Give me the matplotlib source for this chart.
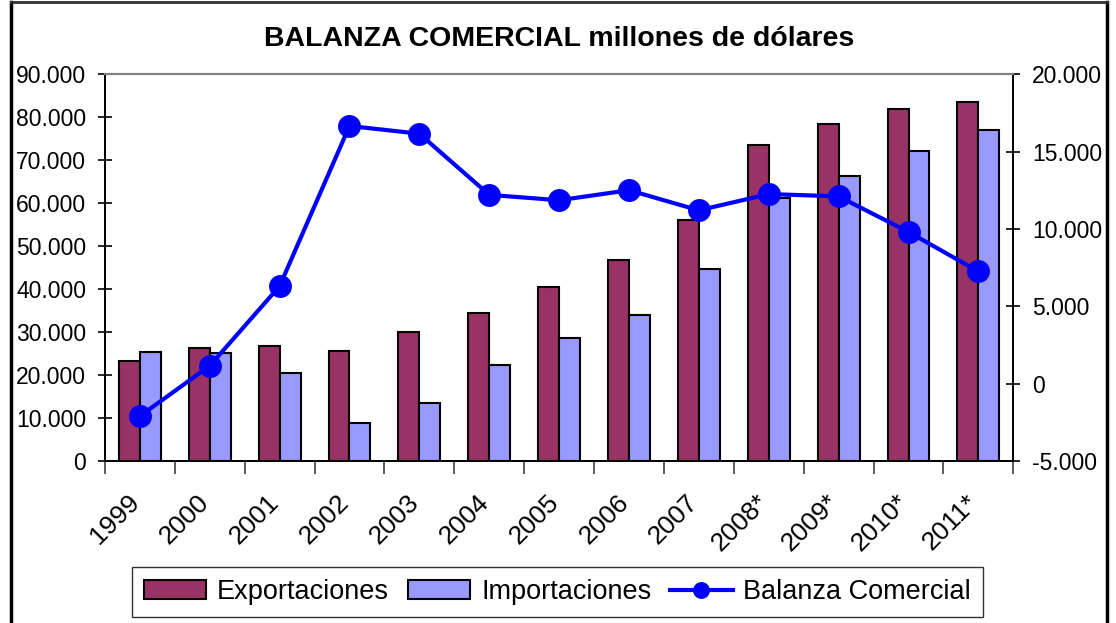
import matplotlib
matplotlib.use("Agg")
import matplotlib.pyplot as plt
import matplotlib.transforms as mtransforms
import numpy as np
from matplotlib.lines import Line2D
from matplotlib.ticker import FuncFormatter

# -----------------------------
# DATA (millones de dólares)
# -----------------------------

years = ["1999", "2000", "2001", "2002", "2003", "2004", "2005",
         "2006", "2007", "2008*", "2009*", "2010*", "2011*"]

exportaciones = [23300, 26300, 26700, 25700, 30000, 34500, 40400,
                 46700, 56000, 73500, 78400, 81800, 83600]

importaciones = [25300, 25200, 20400, 8800, 13600, 22400, 28700,
                 34000, 44700, 61200, 66200, 72100, 76900]

balanza = [-2100, 1150, 6300, 16650, 16150, 12200, 11850,
           12500, 11200, 12250, 12100, 9800, 7250]

left_ticks = [0, 10000, 20000, 30000, 40000, 50000, 60000, 70000, 80000, 90000]
right_ticks = [-5000, 0, 5000, 10000, 15000, 20000]

# -----------------------------
# STYLE
# -----------------------------

plt.rcParams["font.family"] = ["Liberation Sans", "DejaVu Sans"]

COL_EXP = "#993366"
COL_IMP = "#9999FF"
COL_BAL = "#0000FF"


def miles(v, pos=None):
    # thousands with a dot, spanish style
    s = f"{abs(int(round(v))):,}".replace(",", ".")
    return "-" + s if v < 0 else s


fig = plt.figure(figsize=(11.16, 6.23), dpi=100)
ax = fig.add_axes([0.094, 0.26, 0.814, 0.621])
ax2 = ax.twinx()

x = np.arange(len(years))
w = 0.3

b1 = ax.bar(x - w / 2, exportaciones, w, color=COL_EXP, edgecolor="black",
            linewidth=1.5, label="Exportaciones", zorder=2)
b2 = ax.bar(x + w / 2, importaciones, w, color=COL_IMP, edgecolor="black",
            linewidth=1.5, label="Importaciones", zorder=2)

ln, = ax2.plot(x, balanza, color=COL_BAL, linewidth=3, marker="o",
               markersize=15.5, label="Balanza Comercial", zorder=3)

# -----------------------------
# AXES
# -----------------------------

ax.set_xlim(-0.5, len(years) - 0.5)
ax.set_ylim(0, 90000)
ax2.set_ylim(-5000, 20000)

ax.set_yticks(left_ticks)
ax.yaxis.set_major_formatter(FuncFormatter(miles))
ax2.set_yticks(right_ticks)
ax2.yaxis.set_major_formatter(FuncFormatter(miles))

ax.tick_params(axis="y", direction="inout", length=10, width=1.2,
               labelsize=16.5, pad=8.5)
ax2.tick_params(axis="y", direction="inout", length=10, width=1.2,
                labelsize=16.5, pad=8.5)

# category boundaries as ticks, labels in the middle
ax.set_xticks(np.arange(-0.5, len(years), 1.0))
ax.set_xticklabels([])
ax.set_xticks(x, minor=True)
ax.set_xticklabels(years, minor=True, rotation=45, ha="right", va="center",
                   rotation_mode="anchor", fontsize=19)
ax.tick_params(axis="x", which="major", direction="out", length=9,
               width=1.2, color="#404040")
ax.tick_params(axis="x", which="minor", length=0, pad=27)
shift = mtransforms.ScaledTranslation(-3 / 72, 0, fig.dpi_scale_trans)
for lab in ax.get_xticklabels(minor=True):
    lab.set_transform(lab.get_transform() + shift)

for a in (ax, ax2):
    a.spines["top"].set_color("#808080")
    a.spines["top"].set_linewidth(1.5)
    a.spines["left"].set_linewidth(1.3)
    a.spines["right"].set_linewidth(1.3)
    a.spines["bottom"].set_linewidth(1.3)
ax.patch.set_visible(False)
ax2.set_zorder(ax.zorder + 1)
ax2.patch.set_visible(False)

fig.text(0.501, 0.938, "BALANZA COMERCIAL millones de dólares",
         ha="center", va="center", fontsize=20.5, fontweight="bold")

leg = fig.legend([b1, b2, ln], ["Exportaciones", "Importaciones", "Balanza Comercial"],
                 loc="center", bbox_to_anchor=(0.4996, 0.0498), ncol=3,
                 fontsize=19.5, frameon=True, fancybox=False, handlelength=2.3,
                 handleheight=0.65, handletextpad=0.4, columnspacing=0.7,
                 borderpad=0.45, borderaxespad=0, markerscale=0.72,
                 edgecolor="black")
leg.get_frame().set_linewidth(1.0)

# outer chart border
fig.add_artist(Line2D([0.0095, 0.0095], [0.0, 0.997], transform=fig.transFigure,
                      color="black", linewidth=2.5))
fig.add_artist(Line2D([0.9915, 0.9915], [0.0, 0.997], transform=fig.transFigure,
                      color="black", linewidth=2.5))
fig.add_artist(Line2D([0.0095, 0.9915], [0.997, 0.997], transform=fig.transFigure,
                      color="#303030", linewidth=2))

fig.savefig("out.png", dpi=100)
